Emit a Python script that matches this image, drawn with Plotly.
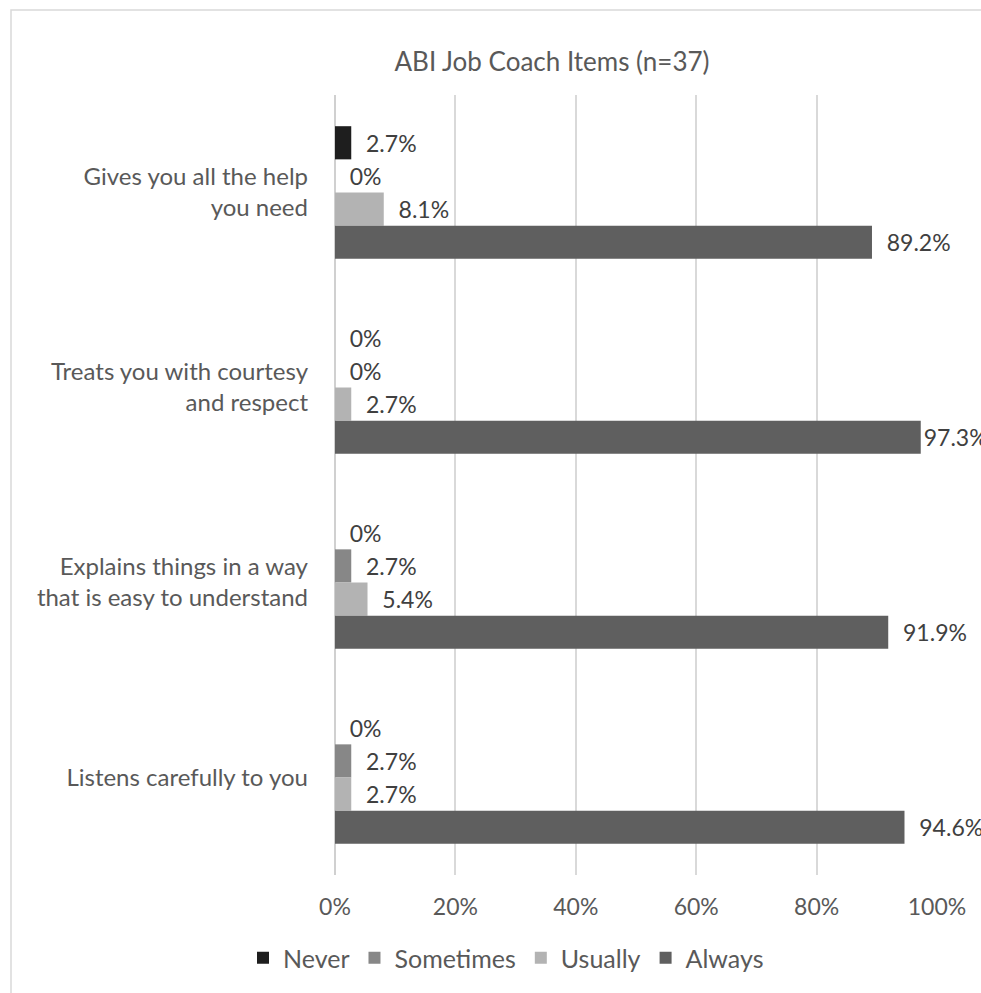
import plotly.graph_objects as go

categories = [
    "Gives you all the help<br>you need",
    "Treats you with courtesy<br>and respect",
    "Explains things in a way<br>that is easy to understand",
    "Listens carefully to you",
]
series_names = ["Never", "Sometimes", "Usually", "Always"]
never = [2.7, 0, 0, 0]
sometimes = [0, 0, 2.7, 2.7]
usually = [8.1, 2.7, 5.4, 2.7]
always = [89.2, 97.3, 91.9, 94.6]
colors = ["#1e1e1e", "#878787", "#b3b3b3", "#5f5f5f"]
x_ticks = [0, 20, 40, 60, 80, 100]
x_ticktext = ["0%", "20%", "40%", "60%", "80%", "100%"]

FONT = "Lato, 'Open Sans', sans-serif"
TXT = "#595959"

W, H = 981, 993
PL, PR, PT, PB = 335, 937, 95, 875  # plot-area edges in page pixels


def label(v):
    # labels that would run off the chart hug the bar end (as in the source)
    pad = "\u00a0\u00a0" if v < 95 else ""
    return pad + f"{v:g}%"


fig = go.Figure()
for name, vals, col in zip(series_names, [never, sometimes, usually, always], colors):
    fig.add_trace(go.Bar(
        y=categories, x=vals, name=name, orientation="h",
        marker=dict(color=col, line=dict(width=0)),
        text=[label(v) for v in vals], textposition="outside",
        textfont=dict(size=23, color="#404040", family=FONT),
        constraintext="none", cliponaxis=False,
    ))

fig.update_layout(
    width=W, height=H,
    barmode="group", bargap=0.32, bargroupgap=0,
    plot_bgcolor="white", paper_bgcolor="white",
    margin=dict(l=PL, r=W - PR, t=PT, b=H - PB, autoexpand=False),
    font=dict(family=FONT, color=TXT, size=23),
    title=dict(text="ABI Job Coach Items (n=37)", x=552 / W, xanchor="center",
               y=1 - 62 / H, yanchor="middle", xref="container", yref="container",
               font=dict(size=26, color=TXT, family=FONT)),
    legend=dict(orientation="h", x=506 / W, xanchor="center", xref="container",
                y=1 - 958 / H, yanchor="middle", yref="container",
                font=dict(size=25, color=TXT, family=FONT), traceorder="normal",
                itemwidth=30),
    xaxis=dict(range=[0, 100], tickvals=x_ticks, ticktext=x_ticktext, automargin=False,
               showgrid=True, gridcolor="#d9d9d9", gridwidth=1.5,
               zeroline=True, zerolinecolor="#d0d0d0", zerolinewidth=1.5,
               tickfont=dict(size=23, color=TXT), ticks="", ticklabelstandoff=16),
    yaxis=dict(autorange="reversed", showgrid=False, zeroline=False, automargin=False,
               tickfont=dict(size=24, color=TXT), ticks="", ticklabelstandoff=26),
    showlegend=True,
)

fig.add_shape(type="rect", xref="paper", yref="paper",
              x0=(11 - PL) / (PR - PL), x1=1.4, y0=-0.4, y1=(PB - 10) / (PB - PT),
              line=dict(color="#d9d9d9", width=1.5), fillcolor="rgba(0,0,0,0)", layer="below")

fig.write_html("out.html", config={"displayModeBar": False},
               post_script="document.body.style.margin='0';")
